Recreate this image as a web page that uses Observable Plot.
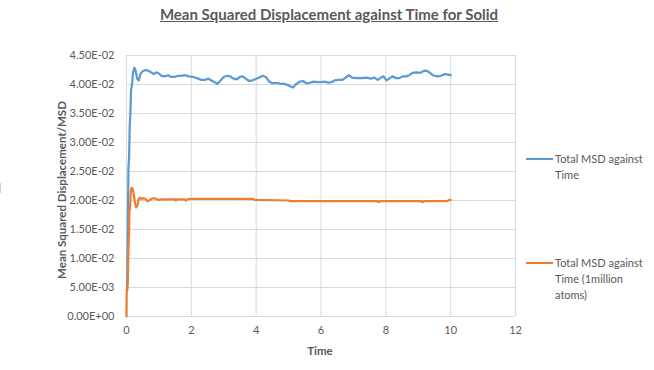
<!DOCTYPE html>
<html>
<head>
<meta charset="utf-8">
<script src="https://cdn.jsdelivr.net/npm/d3@7"></script>
<script src="https://cdn.jsdelivr.net/npm/@observablehq/plot@0.6"></script>
<style>
  body { margin: 0; background: #fff; }
  #wrap { position: relative; width: 654px; height: 370px; font-family: Lato, "Liberation Sans", sans-serif; color: #595959; }
  #wrap svg { position: absolute; left: 0; top: 0; }
  .title { position: absolute; left: 0; width: 658px; top: 5px; text-align: center; font-size: 15px; font-weight: bold; text-decoration: underline; }
  .xt { position: absolute; left: 220px; width: 200px; top: 344px; text-align: center; font-size: 11.5px; font-weight: bold; }
  .yt { position: absolute; left: 61px; top: 190px; transform: translate(-50%, -50%) rotate(-90deg); white-space: nowrap; font-size: 11.5px; font-weight: bold; }
  .lg { position: absolute; left: 526px; }
  .lg .sw { position: absolute; left: 0; width: 27px; height: 2px; }
  .lg .tx { position: absolute; left: 29px; font-size: 11px; line-height: 16px; white-space: nowrap; }
  .mark { position: absolute; left: 0px; top: 183px; width: 1px; height: 10px; background: #d0d0d0; }
</style>
</head>
<body>
<div id="wrap">
  <div class="title">Mean Squared Displacement against Time for Solid</div>
  <div class="xt">Time</div>
  <div class="yt">Mean Squared Displacement/MSD</div>
  <div class="mark"></div>
</div>
<script>
const seriesNames = ["Total MSD against Time", "Total MSD against Time (1million atoms)"];
const seriesColors = ["#5B9BD5", "#ED7D31"];
const xTicks = [0, 2, 4, 6, 8, 10, 12];
const yTicks = [0, 0.005, 0.01, 0.015, 0.02, 0.025, 0.03, 0.035, 0.04, 0.045];

const timeA = [0,0.02,0.04,0.06,0.08,0.10,0.12,0.14,0.17,0.20,0.24,0.28,0.33,0.38,0.43,0.50,0.58,0.66,0.75,0.84,0.92,1.00,1.08,1.18,1.28,1.38,1.48,1.58,1.70,1.80,1.92,2.05,2.18,2.30,2.42,2.52,2.62,2.72,2.80,2.90,3.00,3.10,3.20,3.30,3.40,3.50,3.58,3.68,3.78,3.88,4.00,4.10,4.20,4.30,4.40,4.50,4.62,4.75,4.88,4.98,5.08,5.14,5.22,5.34,5.45,5.55,5.65,5.78,5.90,6.00,6.12,6.22,6.32,6.42,6.55,6.66,6.76,6.86,6.96,7.10,7.25,7.40,7.55,7.65,7.75,7.85,7.93,8.02,8.10,8.20,8.32,8.42,8.52,8.62,8.72,8.82,8.95,9.05,9.15,9.24,9.34,9.45,9.58,9.70,9.82,9.92,10.0];
const msdA = [0.0045,0.0048,0.0150,0.0255,0.0275,0.0330,0.0350,0.0390,0.0400,0.0420,0.0429,0.0424,0.0410,0.0407,0.0418,0.0423,0.0425,0.0424,0.0421,0.0418,0.0421,0.0419,0.0415,0.0414,0.0416,0.0413,0.0413,0.0415,0.0415,0.0416,0.0414,0.0413,0.0411,0.0408,0.0408,0.0410,0.0407,0.0404,0.0401,0.0407,0.0413,0.0415,0.0414,0.0410,0.0409,0.0413,0.0414,0.0410,0.0406,0.0407,0.0410,0.0412,0.0415,0.0413,0.0405,0.0402,0.0403,0.0401,0.0401,0.0399,0.0396,0.0395,0.0400,0.0405,0.0406,0.0402,0.0403,0.0405,0.0404,0.0404,0.0405,0.0403,0.0404,0.0407,0.0408,0.0408,0.0412,0.0416,0.0412,0.0411,0.0411,0.0412,0.0410,0.0412,0.0408,0.0412,0.0414,0.0407,0.0410,0.0414,0.0411,0.0411,0.0414,0.0414,0.0416,0.0420,0.0421,0.0420,0.0423,0.0424,0.0421,0.0416,0.0414,0.0415,0.0418,0.0417,0.0416];

const timeB = [0,0.005,0.02,0.04,0.06,0.08,0.09,0.11,0.13,0.16,0.19,0.22,0.26,0.30,0.34,0.38,0.42,0.47,0.52,0.58,0.64,0.70,0.78,0.86,0.94,1.00,1.10,1.50,1.52,1.56,1.80,1.83,1.88,2.00,3.90,3.95,5.00,5.05,7.75,7.78,7.82,9.10,9.13,9.17,9.90,9.95,10.0];
const msdB = [0,0.0040,0.0044,0.0060,0.0115,0.0150,0.0183,0.0186,0.0215,0.0222,0.0220,0.0212,0.0196,0.0188,0.0192,0.0203,0.0205,0.0202,0.0204,0.0203,0.0199,0.0200,0.0203,0.0204,0.0202,0.0201,0.0202,0.0202,0.0200,0.0202,0.0202,0.0200,0.0202,0.0203,0.0203,0.0201,0.0200,0.0199,0.0199,0.0197,0.0199,0.0199,0.0197,0.0199,0.0199,0.0201,0.0201];

const dataA = timeA.map((t, i) => ({t, v: msdA[i]}));
const dataB = timeB.map((t, i) => ({t, v: msdB[i]}));

function sci(d) {
  if (d === 0) return "0.00E+00";
  const e = Math.floor(Math.log10(Math.abs(d)) + 1e-9);
  const m = d / Math.pow(10, e);
  const sign = e < 0 ? "-" : "+";
  return m.toFixed(2) + "E" + sign + String(Math.abs(e)).padStart(2, "0");
}

const chart = Plot.plot({
  width: 654,
  height: 370,
  marginLeft: 126,
  marginRight: 139,
  marginTop: 55,
  marginBottom: 54,
  style: { fontFamily: "Lato, 'Liberation Sans', sans-serif", fontSize: "11px", color: "#595959", background: "transparent" },
  x: { domain: [0, 12] },
  y: { domain: [0, 0.045] },
  marks: [
    Plot.gridX(xTicks, { stroke: "#D9D9D9", strokeOpacity: 1 }),
    Plot.gridY(yTicks, { stroke: "#D9D9D9", strokeOpacity: 1 }),
    Plot.axisX(xTicks, { tickSize: 0, tickPadding: 10, label: null, tickFormat: d => String(d) }),
    Plot.axisY(yTicks, { tickSize: 0, tickPadding: 12, label: null, tickFormat: sci }),
    Plot.line(dataA, { x: "t", y: "v", stroke: seriesColors[0], strokeWidth: 2.25, strokeLinejoin: "round" }),
    Plot.line(dataB, { x: "t", y: "v", stroke: seriesColors[1], strokeWidth: 2.25, strokeLinejoin: "round" })
  ]
});
const wrap = document.getElementById("wrap");
wrap.insertBefore(chart, wrap.firstChild);

// legend
const legendTops = [159, 263];
const legendLines = [["Total MSD against", "Time"], ["Total MSD against", "Time (1million", "atoms)"]];
seriesNames.forEach((name, i) => {
  const g = document.createElement("div");
  g.className = "lg";
  g.style.top = legendTops[i] + "px";
  const sw = document.createElement("div");
  sw.className = "sw";
  sw.style.background = seriesColors[i];
  sw.style.top = "-1px";
  const tx = document.createElement("div");
  tx.className = "tx";
  tx.style.top = "-8px";
  tx.innerHTML = legendLines[i].join("<br>");
  tx.title = name;
  g.appendChild(sw);
  g.appendChild(tx);
  wrap.appendChild(g);
});
</script>
</body>
</html>
